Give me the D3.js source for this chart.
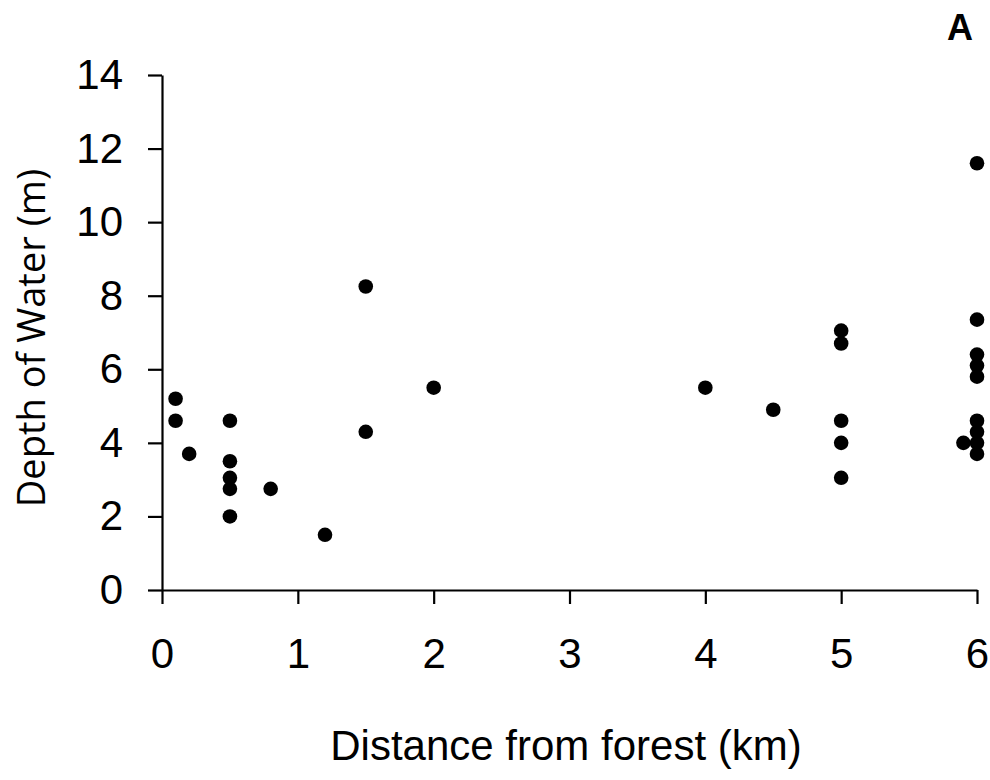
<!DOCTYPE html>
<html>
<head>
<meta charset="utf-8">
<script src="https://cdn.jsdelivr.net/npm/d3@7"></script>
<style>
  body { margin: 0; background: #fff; }
  svg text { fill: #000; }
</style>
</head>
<body>
<div id="chart"></div>
<script>
// distance from forest (km) and depth of water (m), one entry per point
let distance = [0.1, 0.1, 0.2, 0.5, 0.5, 0.5, 0.5, 0.5, 0.8, 1.2, 1.5, 1.5, 2,
    4, 4.5, 5, 5, 5, 5, 5, 5.9, 6, 6, 6, 6, 6, 6, 6, 6, 6];
let depth = [5.2, 4.6, 3.7, 4.6, 3.5, 3.05, 2.75, 2.0, 2.75, 1.5, 4.3, 8.25, 5.5,
    5.5, 4.9, 7.05, 6.7, 4.6, 4.0, 3.05, 4.0, 11.6, 7.35, 6.4, 6.1, 5.8, 4.6, 4.3, 4.0, 3.7];

let xTicks = [0, 1, 2, 3, 4, 5, 6];
let yTicks = [0, 2, 4, 6, 8, 10, 12, 14];

let width = 990;
let height = 780;

let svg = d3.select("#chart").append("svg")
    .attr("width", width)
    .attr("height", height);

let xScale = d3.scaleLinear().domain([0, 6]).range([162, 977]);
let yScale = d3.scaleLinear().domain([0, 14]).range([590, 75]);

let xAxis = d3.axisBottom(xScale)
    .tickValues(xTicks)
    .tickFormat(d3.format('d'))
    .tickSizeInner(14)
    .tickSizeOuter(0)
    .tickPadding(34);

let yAxis = d3.axisLeft(yScale)
    .tickValues(yTicks)
    .tickFormat(d3.format('d'))
    .tickSizeInner(14)
    .tickSizeOuter(0)
    .tickPadding(25);

let axisG = svg.append('g').classed('axis-g', true);

axisG.append('g')
    .attr('transform', 'translate(0,' + yScale(0) + ')')
    .call(xAxis);

axisG.append('g')
    .attr('transform', 'translate(' + xScale(0) + ',0)')
    .call(yAxis);

axisG.selectAll('path, line')
    .attr('stroke', '#000')
    .attr('stroke-width', 2.2);

axisG.selectAll('text')
    .attr('fill', '#000')
    .style('font-family', '"Liberation Sans", Arial, sans-serif')
    .style('font-size', '42px');

// points
svg.append('g').selectAll('circle')
    .data(distance)
    .enter()
    .append('circle')
    .attr('cx', (d) => xScale(d))
    .attr('cy', (d, i) => yScale(depth[i]))
    .attr('r', 7.3)
    .attr('fill', '#000');

// axis titles
svg.append('text')
    .attr('x', 566)
    .attr('y', 760)
    .attr('text-anchor', 'middle')
    .style('font-family', '"Liberation Sans", Arial, sans-serif')
    .style('font-size', '42px')
    .text('Distance from forest (km)');

svg.append('text')
    .attr('transform', 'translate(45,' + 338 + ') rotate(-90)')
    .attr('text-anchor', 'middle')
    .style('font-family', '"Open Sans", sans-serif')
    .style('font-size', '38px')
    .text('Depth of Water (m)');

svg.append('text')
    .attr('x', 973)
    .attr('y', 40)
    .attr('text-anchor', 'end')
    .style('font-family', '"Liberation Sans", Arial, sans-serif')
    .style('font-weight', 'bold')
    .style('font-size', '36px')
    .text('A');
</script>
</body>
</html>
